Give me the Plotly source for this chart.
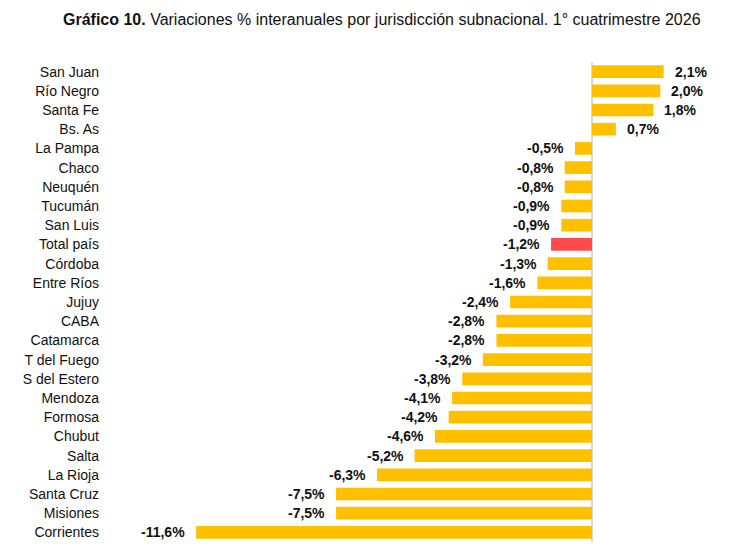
import plotly.graph_objects as go

categories = ["San Juan", "Río Negro", "Santa Fe", "Bs. As", "La Pampa", "Chaco", "Neuquén",
              "Tucumán", "San Luis", "Total país", "Córdoba", "Entre Ríos", "Jujuy", "CABA",
              "Catamarca", "T del Fuego", "S del Estero", "Mendoza", "Formosa", "Chubut",
              "Salta", "La Rioja", "Santa Cruz", "Misiones", "Corrientes"]
values = [2.1, 2.0, 1.8, 0.7, -0.5, -0.8, -0.8, -0.9, -0.9, -1.2, -1.3, -1.6, -2.4, -2.8,
          -2.8, -3.2, -3.8, -4.1, -4.2, -4.6, -5.2, -6.3, -7.5, -7.5, -11.6]
highlight = "Total país"

YELLOW = "#FFC000"
RED = "#FF4B4B"
FONT = "Liberation Sans Narrow, Arial Narrow, Liberation Sans, Arial, sans-serif"

colors = [RED if c == highlight else YELLOW for c in categories]
labels = [f"{v:.1f}%".replace(".", ",") for v in values]

fig = go.Figure(go.Bar(
    x=values, y=categories, orientation="h",
    marker=dict(color=colors, line=dict(width=0)),
    width=0.66, hoverinfo="skip",
))

for c, v, t in zip(categories, values, labels):
    fig.add_annotation(
        x=v, y=c, text=f"<b>{t}</b>", showarrow=False,
        xanchor="left" if v >= 0 else "right",
        xshift=9 if v >= 0 else -9,
        font=dict(size=14, color="#111111", family=FONT),
    )

fig.add_annotation(
    text="<b>Gráfico 10.</b> Variaciones % interanuales por jurisdicción subnacional. 1° cuatrimestre 2026",
    xref="paper", yref="paper", x=0.45, y=1.0, yshift=43, xanchor="center", yanchor="middle",
    showarrow=False, font=dict(size=16, color="#111111", family=FONT),
)

fig.update_layout(
    width=738, height=552,
    margin=dict(l=105, r=18, t=62, b=10),
    plot_bgcolor="white", paper_bgcolor="white",
    showlegend=False,
    bargap=0.34,
    xaxis=dict(range=[-14.27, 3.75], showgrid=False, showticklabels=False, ticks="",
               zeroline=True, zerolinecolor="#D9D9D9", zerolinewidth=2, fixedrange=True),
    yaxis=dict(autorange=False, range=[len(categories) - 0.5, -0.5], showgrid=False,
               ticks="", ticklabelstandoff=5,
               tickfont=dict(size=14, color="#111111", family=FONT)),
)

fig.write_html("out.html")
